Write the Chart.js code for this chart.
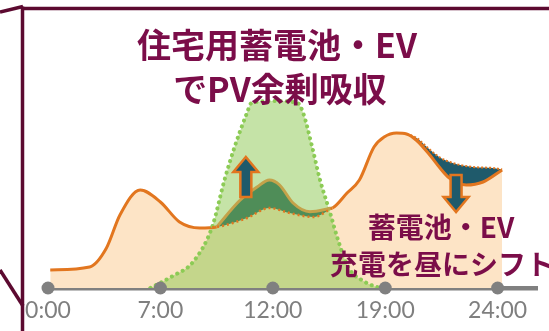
<!DOCTYPE html>
<html>
<head>
<meta charset="utf-8">
<script src="https://cdn.jsdelivr.net/npm/chart.js"></script>
<style>
    html, body { margin: 0; padding: 0; background: #fff; }
    #wrap { position: relative; width: 549px; height: 331px; overflow: hidden; }
    #chart { position: absolute; left: 0; top: 0; }
    #frame { position: absolute; left: 0; top: 0; }
    .note {
        position: absolute;
        font-family: "Noto Sans CJK JP", sans-serif;
        font-weight: 700;
        color: #7b0d49;
        white-space: nowrap;
        line-height: 1;
    }
</style>
</head>
<body>
<div id="wrap">
    <canvas id="chart" width="549" height="331"></canvas>
    <svg id="frame" width="549" height="331">
        <g stroke="#5c0a30" stroke-width="3.5" fill="none">
            <line x1="0" y1="12" x2="23" y2="6.5"/>
            <line x1="21" y1="8.5" x2="549" y2="8.5"/>
            <line x1="22.5" y1="6.5" x2="22.5" y2="331"/>
            <line x1="0" y1="270" x2="23" y2="306"/>
        </g>
    </svg>
    <div class="note" style="left:77px;width:400px;text-align:center;top:27px;font-size:34px;">住宅用蓄電池・EV</div>
    <div class="note" style="left:80px;width:400px;text-align:center;top:71px;font-size:34px;">でPV余剰吸収</div>
    <div class="note" style="left:241px;width:400px;text-align:center;top:212px;font-size:28px;">蓄電池・EV</div>
    <div class="note" style="left:330px;top:249px;font-size:28px;">充電を昼にシフト</div>
</div>
<script>
// Time axis: five evenly spaced slots
const hourLabels = ['0:00', '7:00', '12:00', '19:00', '24:00'];
const hourSlots = [0, 1, 2, 3, 4];

// Demand after shifting storage / EV charging to midday
const shiftX = [0.02, 0.37, 0.52, 0.64, 0.82, 1.0, 1.17, 1.35, 1.5, 1.71, 1.86, 1.97, 2.06, 2.18, 2.33, 2.53, 2.66, 2.77, 2.9, 2.99, 3.1, 3.19, 3.28, 3.4, 3.48, 3.57, 3.72, 3.87, 4.04];
const shiftY = [7.2, 8.4, 16, 29.2, 39.2, 34.4, 26.4, 24, 24.4, 35.2, 40.4, 43.2, 41.2, 34, 30.5, 32, 38, 43.2, 56.4, 60.4, 62, 61.6, 59, 53, 48.4, 44, 41.2, 42.4, 47.2];

// Original demand under the PV hump (dotted)
const baseNoonX = [1.46, 1.5, 1.77, 1.97, 2.15, 2.36, 2.53];
const baseNoonY = [24.3, 24.4, 28, 32, 30, 28.4, 32];

// Original demand in the evening (before the shift)
const baseEveX = [3.19, 3.28, 3.37, 3.48, 3.6, 3.78, 3.96, 4.04];
const baseEveY = [61.6, 60, 56.4, 52.4, 50, 48.4, 48, 47.4];

// PV generation
const pvX = [0.91, 1.11, 1.29, 1.46, 1.57, 1.66, 1.77, 1.81, 2.02, 2.22, 2.27, 2.35, 2.42, 2.51, 2.58, 2.67, 2.82, 2.95];
const pvY = [0, 4.8, 10.4, 24.4, 43.2, 56.4, 70, 74, 74.8, 74, 70, 56.4, 43.2, 30, 19.2, 8.4, 2.4, 0];

// Arrow annotations (slot, from value, to value)
const arrowMarks = [
    { x: 1.76, from: 36.4, to: 52.4 },
    { x: 3.63, from: 45.2, to: 30.4 }
];

const ORANGE = '#e2761f';
const PEACH = '#fde4c6';
const TEAL = '#1f5a6b';
const GOLD = '#c4a24a';

function pts(xs, ys) {
    return xs.map((x, i) => ({ x: x, y: ys[i] }));
}

const noonStart = baseNoonX[0];
const noonEnd = baseNoonX[baseNoonX.length - 1];
const bumpPts = pts(shiftX, shiftY).filter(p => p.x >= 1.5 && p.x <= noonEnd);

const arrowPlugin = {
    id: 'arrows',
    afterDatasetsDraw(chart) {
        const { ctx, scales: { x, y } } = chart;
        arrowMarks.forEach(a => {
            const cx = x.getPixelForValue(a.x);
            const y0 = y.getPixelForValue(a.from);
            const y1 = y.getPixelForValue(a.to);
            const dir = y1 < y0 ? -1 : 1;
            const head = 15, hw = 12.5, sw = 5.5;
            const yh = y1 - dir * head;
            ctx.save();
            ctx.beginPath();
            ctx.moveTo(cx - sw, y0);
            ctx.lineTo(cx - sw, yh);
            ctx.lineTo(cx - hw, yh);
            ctx.lineTo(cx, y1);
            ctx.lineTo(cx + hw, yh);
            ctx.lineTo(cx + sw, yh);
            ctx.lineTo(cx + sw, y0);
            ctx.closePath();
            ctx.fillStyle = TEAL;
            ctx.fill();
            ctx.lineWidth = 2.5;
            ctx.strokeStyle = ORANGE;
            ctx.stroke();
            ctx.restore();
        });
    }
};

const ctx = document.getElementById('chart').getContext('2d');

new Chart(ctx, {
    type: 'line',
    data: {
        datasets: [
            {
                // tick dots on the time axis
                type: 'scatter',
                data: hourSlots.map(h => ({ x: h, y: 0 })),
                pointRadius: 6.5,
                pointBackgroundColor: '#808080',
                pointBorderWidth: 0,
                showLine: false,
                clip: false,
                order: 0
            },
            {
                data: pts(baseEveX, baseEveY),
                borderColor: ORANGE,
                borderWidth: 2,
                borderDash: [2, 2],
                backgroundColor: TEAL,
                fill: 5,
                order: 1
            },
            {
                data: pts(baseNoonX, baseNoonY),
                borderColor: ORANGE,
                borderWidth: 2.5,
                borderDash: [2, 3],
                fill: false,
                order: 2
            },
            {
                data: bumpPts,
                borderColor: GOLD,
                borderWidth: 3,
                backgroundColor: '#4f8d58',
                fill: 2,
                order: 3
            },
            {
                data: pts(pvX, pvY),
                borderColor: '#8ccb55',
                borderWidth: 4,
                borderDash: [0.1, 6],
                borderCapStyle: 'round',
                backgroundColor: 'rgba(140, 200, 80, 0.5)',
                fill: 'origin',
                order: 4
            },
            {
                // peach area under the shifted demand
                data: pts(shiftX, shiftY),
                borderWidth: 0,
                borderColor: 'rgba(0,0,0,0)',
                backgroundColor: PEACH,
                fill: 'origin',
                order: 5
            },
            {
                // shifted demand outline, hidden where the PV hump covers it
                data: pts(shiftX, shiftY),
                borderColor: ORANGE,
                borderWidth: 3,
                fill: false,
                segment: {
                    borderColor: c => (c.p0.parsed.x >= noonStart && c.p1.parsed.x <= noonEnd) ? 'rgba(0,0,0,0)' : ORANGE
                },
                order: 6
            }
        ]
    },
    options: {
        responsive: false,
        animation: false,
        events: [],
        elements: {
            point: { radius: 0 },
            line: { cubicInterpolationMode: 'monotone' }
        },
        layout: { padding: { left: 48, right: 12, top: 38, bottom: 0 } },
        scales: {
            x: {
                type: 'linear',
                min: 0,
                max: 4.35,
                z: 1,
                afterFit: function(scale) { scale.height = 43; },
                afterBuildTicks: function(scale) {
                    scale.ticks = hourSlots.map(h => ({ value: h }));
                },
                grid: { display: false, drawTicks: false },
                border: { display: true, color: '#808080', width: 4.5 },
                ticks: {
                    padding: 9,
                    color: '#7f7f7f',
                    font: { family: 'Lato', size: 23 },
                    maxRotation: 0,
                    autoSkip: false,
                    callback: function(v) {
                        const i = hourSlots.indexOf(v);
                        return i >= 0 ? hourLabels[i] : '';
                    }
                }
            },
            y: { display: false, min: 0, max: 100 }
        },
        plugins: {
            legend: { display: false },
            tooltip: { enabled: false },
            filler: { drawTime: 'beforeDatasetsDraw' }
        }
    },
    plugins: [arrowPlugin]
});
</script>
</body>
</html>
